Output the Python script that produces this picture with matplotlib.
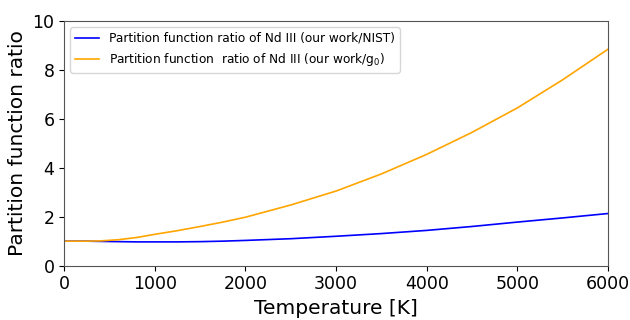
import matplotlib.pyplot as plt

temps = [0, 250, 400, 600, 800, 1000, 1250, 1500, 1750, 2000, 2500, 3000,
         3500, 4000, 4500, 5000, 5500, 6000]
ratio_nist = [1.0, 1.0, 0.99, 0.98, 0.97, 0.97, 0.97, 0.98, 1.0, 1.03, 1.1,
              1.2, 1.31, 1.44, 1.6, 1.78, 1.95, 2.13]
ratio_g0 = [1.0, 1.0, 1.01, 1.06, 1.15, 1.28, 1.43, 1.6, 1.78, 1.98, 2.48,
            3.05, 3.75, 4.55, 5.45, 6.45, 7.6, 8.85]

fig, ax = plt.subplots(figsize=(6.3, 3.2), dpi=100)
ax.plot(temps, ratio_nist, color='blue', lw=1.2,
        label='Partition function ratio of Nd III (our work/NIST)')
ax.plot(temps, ratio_g0, color='orange', lw=1.2,
        label='Partition function  ratio of Nd III (our work/g$_0$)')
ax.set_xlim(0, 6000)
ax.set_ylim(0, 10)
ax.set_xlabel('Temperature [K]', fontsize=14.5)
ax.set_ylabel('Partition function ratio', fontsize=14.5)
ax.tick_params(labelsize=12.5)
for s in ax.spines.values():
    s.set_color('#555555')
ax.legend(loc='upper left', fontsize=8.7)
fig.subplots_adjust(left=0.102, right=0.965, top=0.934, bottom=0.17)
fig.savefig('out.png')
